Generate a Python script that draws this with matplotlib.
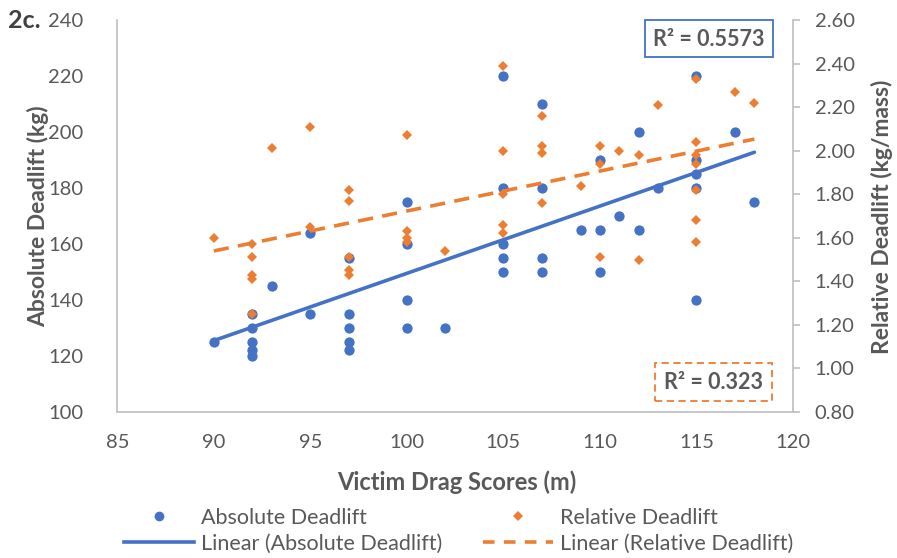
import numpy as np
import matplotlib
matplotlib.use('Agg')
import matplotlib.pyplot as plt
from matplotlib.lines import Line2D
from matplotlib.patches import Rectangle

plt.rcParams['font.family'] = ['Lato', 'DejaVu Sans']

# victim drag score (m) vs absolute deadlift (kg)
abs_x = [90, 92, 92, 92, 92, 92, 93, 95, 95, 97, 97, 97, 97, 97,
         100, 100, 100, 100, 102, 105, 105, 105, 105, 105,
         107, 107, 107, 107, 109, 110, 110, 110, 111, 112, 112, 113,
         115, 115, 115, 115, 115, 117, 118]
abs_y = [125, 135, 130, 125, 122, 120, 145, 135, 164, 155, 135, 130, 125, 122,
         175, 160, 140, 130, 130, 220, 180, 160, 155, 150,
         210, 180, 155, 150, 165, 190, 165, 150, 170, 200, 165, 180,
         220, 190, 185, 180, 140, 200, 175]

# victim drag score (m) vs relative deadlift (kg/mass)
rel_x = [90, 92, 92, 92, 92, 92, 93, 95, 95, 97, 97, 97, 97, 97,
         100, 100, 100, 100, 102, 105, 105, 105, 105, 105,
         107, 107, 107, 107, 109, 110, 110, 110, 111, 112, 112, 113,
         115, 115, 115, 115, 115, 115, 115, 117, 118]
rel_y = [1.60, 1.57, 1.51, 1.43, 1.41, 1.25, 2.01, 2.11, 1.65, 1.82, 1.77, 1.51, 1.45, 1.43,
         2.07, 1.63, 1.60, 1.58, 1.54, 2.39, 2.00, 1.80, 1.66, 1.62,
         2.16, 2.02, 1.99, 1.76, 1.84, 2.02, 1.94, 1.51, 2.00, 1.98, 1.50, 2.21,
         2.33, 2.04, 1.98, 1.94, 1.82, 1.68, 1.58, 2.27, 2.22]

r2_abs = 'R² = 0.5573'
r2_rel = 'R² = 0.323'

blue = '#4472C4'
orange = '#ED7D31'
grey = '#595959'
axgrey = '#BFBFBF'

W, H = 897, 558
fig = plt.figure(figsize=(W / 100, H / 100), dpi=100)
x0, x1, y0, y1 = 117.3, 793, 20, 412
ax1 = fig.add_axes([x0 / W, 1 - y1 / H, (x1 - x0) / W, (y1 - y0) / H])
ax2 = ax1.twinx()

# trend lines from least squares fits
fa = np.polyfit(abs_x, abs_y, 1)
fr = np.polyfit(rel_x, rel_y, 1)
xl = np.array([min(abs_x), max(abs_x)])
xr = np.array([min(rel_x), max(rel_x)])

ax1.plot(abs_x, abs_y, 'o', color=blue, ms=7.4, mew=0, zorder=2)
ax1.plot(xl, np.polyval(fa, xl), '-', color=blue, lw=2.6, solid_capstyle='round', zorder=3)

ax2.plot(xr, np.polyval(fr, xr), '--', color=orange, lw=2.6, dashes=(4.2, 2.6), zorder=2)
ax2.plot(rel_x, rel_y, 'D', color=orange, ms=4.9, mew=0, zorder=3)

ax1.set_xlim(85, 120)
ax1.set_ylim(100, 240)
ax2.set_ylim(0.8, 2.6)
ax1.set_xticks(np.arange(85, 121, 5))
ax1.set_yticks(np.arange(100, 241, 20))
ax2.set_yticks(np.arange(0.8, 2.61, 0.2))
ax2.set_yticklabels([f'{v:.2f}' for v in np.arange(0.8, 2.61, 0.2)])

for ax in (ax1, ax2):
    for s in ax.spines.values():
        s.set_visible(False)
ax1.spines['left'].set_visible(True)
ax1.spines['bottom'].set_visible(True)
ax2.spines['right'].set_visible(True)
for s in (ax1.spines['left'], ax1.spines['bottom'], ax2.spines['right']):
    s.set_color(axgrey)
    s.set_linewidth(1.2)

ax1.tick_params(axis='y', length=0, pad=24.5, labelsize=14.5, labelcolor=grey)
ax1.tick_params(axis='x', length=0, pad=15.5, labelsize=14.5, labelcolor=grey)
ax2.tick_params(axis='y', length=5, width=1.2, color=axgrey, direction='out',
                pad=10.5, labelsize=14.5, labelcolor=grey)

ax1.set_xlabel('Victim Drag Scores (m)', fontsize=17, fontweight='bold', color=grey)
ax1.xaxis.set_label_coords(0.503, -0.179)
ax1.xaxis.label.set_va('center')
ax1.set_ylabel('Absolute Deadlift (kg)', fontsize=16.5, fontweight='bold', color=grey)
ax1.yaxis.set_label_coords(-0.117, 0.5)
ax1.yaxis.label.set_va('center')
ax2.set_ylabel('Relative Deadlift (kg/mass)', fontsize=16.5, fontweight='bold', color=grey,
               rotation=90)
ax2.yaxis.set_label_coords(1.1317, 0.497)
ax2.yaxis.label.set_va('center')

fig.text(8 / W, 1 - 21 / H, '2c.', fontsize=18, fontweight='bold', color='#404040',
         ha='left', va='center')

# R squared boxes
fig.add_artist(Rectangle((645 / W, 1 - 56.7 / H), 128 / W, 36.7 / H, transform=fig.transFigure,
                         fill=False, ec=blue, lw=1.3))
fig.text(709 / W, 1 - 39 / H, r2_abs, fontsize=15.5, fontweight='bold', color=grey,
         ha='center', va='center')
fig.add_artist(Rectangle((655 / W, 1 - 400.7 / H), 116.7 / W, 37.4 / H, transform=fig.transFigure,
                         fill=False, ec=orange, lw=1.3, ls=(0, (4, 2.5))))
fig.text(713 / W, 1 - 382.5 / H, r2_rel, fontsize=15.5, fontweight='bold', color=grey,
         ha='center', va='center')

# legend, two columns placed separately
h_abs = Line2D([], [], ls='none', marker='o', color=blue, ms=7, mew=0)
h_absl = Line2D([], [], ls='-', color=blue, lw=2.6)
h_rel = Line2D([], [], ls='none', marker='D', color=orange, ms=4.8, mew=0)
h_rell = Line2D([], [], ls='--', color=orange, lw=2.6, dashes=(3.2, 2.6))
lkw = dict(frameon=False, loc='upper left', fontsize=15.5, handlelength=3.25,
           handletextpad=0.31, labelspacing=0.27, borderpad=0, borderaxespad=0,
           labelcolor=grey)
fig.legend([h_abs, h_absl], ['Absolute Deadlift', 'Linear (Absolute Deadlift)'],
           bbox_to_anchor=(124 / W, 1 - 508 / H), **lkw)
fig.legend([h_rel, h_rell], ['Relative Deadlift', 'Linear (Relative Deadlift)'],
           bbox_to_anchor=(483 / W, 1 - 508 / H), **lkw)

fig.savefig('out.png', dpi=100)
